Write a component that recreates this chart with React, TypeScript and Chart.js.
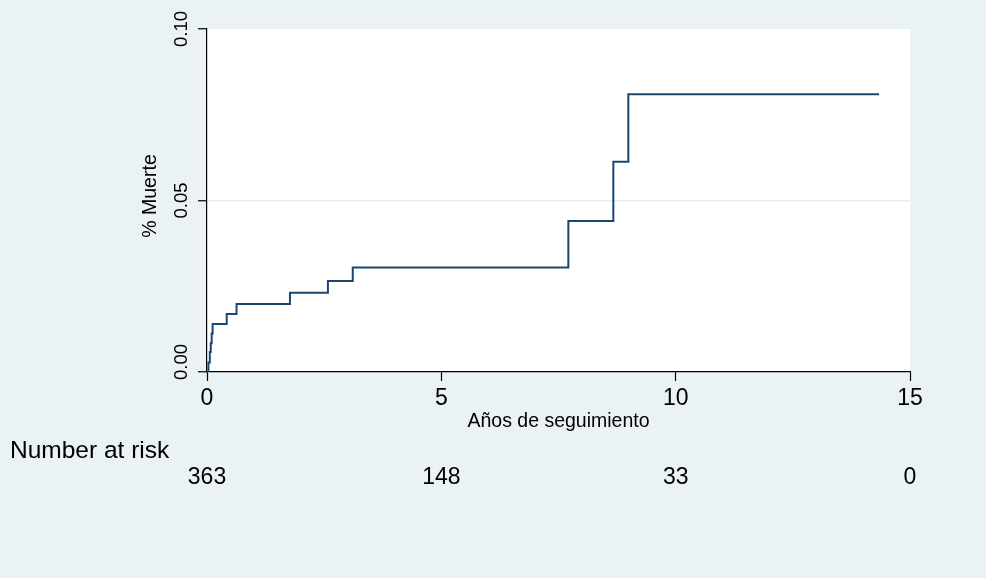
import React, { useEffect, useRef } from "react";
import { Chart, registerables } from "chart.js";

Chart.register(...registerables);

// Kaplan-Meier cumulative incidence (failure) steps
const times = [0, 0.03, 0.06, 0.08, 0.1, 0.12, 0.42, 0.63, 1.77, 2.58, 3.11, 7.71, 8.67, 8.99, 14.34];
const failure = [0, 0.0028, 0.0058, 0.0084, 0.0112, 0.014, 0.0169, 0.0198, 0.0231, 0.0265, 0.0305, 0.044, 0.0613, 0.081, 0.081];

const xTicks = [0, 5, 10, 15];
const yTicks = [0, 0.05, 0.1];
const yTickLabels = ["0.00", "0.05", "0.10"];
const riskTimes = [0, 5, 10, 15];
const riskCounts = ["363", "148", "33", "0"];

const yTitle = "% Muerte";
const xTitle = "Años de seguimiento";
const riskTitle = "Number at risk";

const FONT = '"Liberation Sans", Arial, Helvetica, sans-serif';
const BG = "#EAF2F3";
const NAVY = "#1A476F";

export default function App() {
  const ref = useRef<HTMLCanvasElement | null>(null);

  useEffect(() => {
    const canvas = ref.current;
    if (!canvas) return;

    const bgPlugin = {
      id: "bgPlugin",
      beforeDraw(chart: any) {
        const { ctx, chartArea } = chart;
        ctx.save();
        ctx.fillStyle = BG;
        ctx.fillRect(0, 0, chart.width, chart.height);
        ctx.fillStyle = "#ffffff";
        ctx.fillRect(chartArea.left, chartArea.top, chartArea.right - chartArea.left, chartArea.bottom - chartArea.top);
        ctx.restore();
      },
    };

    const textPlugin = {
      id: "textPlugin",
      afterDraw(chart: any) {
        const { ctx } = chart;
        const xs = chart.scales.x;
        const ys = chart.scales.y;
        ctx.save();
        ctx.fillStyle = "#000";
        // y tick labels (rotated)
        ctx.font = `18.5px ${FONT}`;
        ctx.textAlign = "center";
        ctx.textBaseline = "middle";
        yTicks.forEach((v, i) => {
          let py = ys.getPixelForValue(v);
          if (i === 0) py -= 10;
          ctx.save();
          ctx.translate(182, py);
          ctx.rotate(-Math.PI / 2);
          ctx.fillText(yTickLabels[i], 0, 0);
          ctx.restore();
        });
        // y title
        ctx.font = `19.5px ${FONT}`;
        ctx.save();
        ctx.translate(151, 196);
        ctx.rotate(-Math.PI / 2);
        ctx.fillText(yTitle, 0, 0);
        ctx.restore();
        // x title
        ctx.fillText(xTitle, (xs.left + xs.right) / 2, 422);
        // number at risk
        ctx.font = `24.5px ${FONT}`;
        ctx.textAlign = "left";
        ctx.fillText(riskTitle, 10, 451);
        ctx.font = `23px ${FONT}`;
        ctx.textAlign = "center";
        riskTimes.forEach((t, i) => {
          ctx.fillText(riskCounts[i], xs.getPixelForValue(t), 478);
        });
        ctx.restore();
      },
    };

    const chart = new Chart(canvas, {
      type: "line",
      data: {
        datasets: [
          {
            data: times.map((t, i) => ({ x: t, y: failure[i] })),
            stepped: "before",
            borderColor: NAVY,
            borderWidth: 2,
            pointRadius: 0,
            fill: false,
          },
        ],
      },
      options: {
        animation: false,
        responsive: false,
        events: [],
        layout: { padding: { left: 0, top: 29, right: 76, bottom: 146 } },
        plugins: { legend: { display: false }, tooltip: { enabled: false } },
        scales: {
          x: {
            type: "linear",
            min: 0,
            max: 15,
            afterBuildTicks(scale: any) {
              scale.ticks = xTicks.map((v) => ({ value: v }));
            },
            afterFit(scale: any) {
              scale.height = 60;
            },
            border: { display: true, color: "#000", width: 1.2 },
            grid: { drawOnChartArea: false, drawTicks: true, tickLength: 9, tickColor: "#000", tickWidth: 1.2 },
            ticks: {
              color: "#000",
              font: { family: FONT, size: 23 },
              padding: 4,
              maxRotation: 0,
              minRotation: 0,
              callback: (v: any) => String(v),
            },
          },
          y: {
            type: "linear",
            min: 0,
            max: 0.1,
            afterBuildTicks(scale: any) {
              scale.ticks = yTicks.map((v) => ({ value: v }));
            },
            afterFit(scale: any) {
              scale.width = 207;
            },
            border: { display: true, color: "#000", width: 1.2 },
            grid: {
              drawOnChartArea: true,
              drawTicks: true,
              tickLength: 9,
              tickColor: "#000",
              tickWidth: 1.2,
              lineWidth: 1.5,
              color: (c: any) => (c.tick && Math.abs(c.tick.value - 0.05) < 1e-9 ? "#E3EDEF" : "rgba(0,0,0,0)"),
            },
            ticks: {
              color: "rgba(0,0,0,0)",
              font: { family: FONT, size: 18 },
              callback: (v: any) => Number(v).toFixed(2),
            },
          },
        },
      },
      plugins: [bgPlugin, textPlugin],
    });

    return () => chart.destroy();
  }, []);

  return (
    <div style={{ position: "absolute", left: 0, top: 0, width: 986, height: 578, background: BG }}>
      <canvas ref={ref} width={986} height={578} style={{ display: "block" }} />
    </div>
  );
}
